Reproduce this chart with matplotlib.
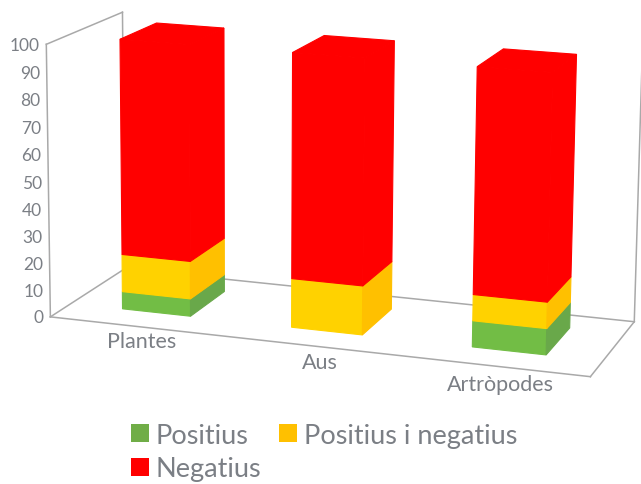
import matplotlib
matplotlib.use("Agg")
import matplotlib.pyplot as plt
from matplotlib.patches import Patch, Polygon
import numpy as np

plt.rcParams['font.family'] = ['Lato', 'DejaVu Sans']

categories = ["Plantes", "Aus", "Artròpodes"]
positius = [6.5, 0, 9.5]
positius_negatius = [14, 18, 9.5]
negatius = [79.5, 82, 81]
ticks = [0, 10, 20, 30, 40, 50, 60, 70, 80, 90, 100]
series_names = ["Positius", "Positius i negatius", "Negatius"]

front_cols = ["#72BD45", "#FFD200", "#FF0000"]
side_cols = ["#69A84A", "#FFC000", "#FF0000"]
legend_cols = ["#70AD47", "#FFC000", "#FF0000"]
line_col = "#a9a9a9"
text_col = "#7b7f85"

# where the frame of the fake 3d box sits in the picture
# (x 0..3, value 0..100, depth 0..1) -> pixels
anchors = [
    (0, 0, 0, 53, 316),
    (3, 0, 0, 590, 380),
    (0, 0, 1, 122, 272),
    (3, 0, 1, 635, 320),
    (0, 100, 0, 44, 45),
    (0, 100, 1, 125, 13),
    (3, 100, 1, 642, 52),
]


def fit_camera(pts):
    rows = []
    rhs = []
    for x, v, d, px, py in pts:
        w = [x, v / 100, d, 1]
        rows.append(w + [0, 0, 0, 0] + [-px * x, -px * v / 100, -px * d])
        rhs.append(px)
        rows.append([0, 0, 0, 0] + w + [-py * x, -py * v / 100, -py * d])
        rhs.append(py)
    sol = np.linalg.lstsq(np.array(rows, float), np.array(rhs, float), rcond=None)[0]
    return np.append(sol, 1).reshape(3, 4)


cam = fit_camera(anchors)


def project(x, v, d):
    p = cam @ np.array([x, v / 100, d, 1])
    return p[0] / p[2], p[1] / p[2]


fig = plt.figure(figsize=(6.41, 4.85), dpi=100)
ax = fig.add_axes([0, 0, 1, 1])
ax.set_xlim(0, 641)
ax.set_ylim(485, 0)
ax.axis("off")

# frame lines
frame = [
    ((0, 0, 0), (3, 0, 0)),
    ((3, 0, 0), (3, 0, 1)),
    ((3, 0, 1), (0, 0, 1)),
    ((0, 0, 1), (0, 0, 0)),
    ((0, 0, 0), (0, 100, 0)),
    ((0, 100, 0), (0, 100, 1)),
    ((0, 100, 1), (0, 0, 1)),
    ((3, 0, 1), (3, 100, 1)),
]
for a, b in frame:
    pa = project(*a)
    pb = project(*b)
    ax.plot([pa[0], pb[0]], [pa[1], pb[1]], color=line_col, lw=1.1, zorder=1)

for t in ticks:
    px, py = project(0, t, 0)
    ax.text(px - 6.5, py + 0.5, str(t), ha="right", va="center", fontsize=12.5, color=text_col)

# stacked bars
bar_x = [0.505, 1.488, 2.497]
bar_w = 0.40
d0, d1 = 0.27, 0.77
stacks = [positius, positius_negatius, negatius]
for i in range(len(categories)):
    x0 = bar_x[i] - bar_w / 2
    x1 = bar_x[i] + bar_w / 2
    base = 0
    for s in range(3):
        val = stacks[s][i]
        if val == 0:
            continue
        top = base + val
        ax.add_patch(Polygon([project(x0, base, d0), project(x1, base, d0),
                              project(x1, top, d0), project(x0, top, d0)],
                             fc=front_cols[s], ec=front_cols[s], lw=0.8, zorder=3))
        ax.add_patch(Polygon([project(x1, base, d0), project(x1, base, d1),
                              project(x1, top, d1), project(x1, top, d0)],
                             fc=side_cols[s], ec=side_cols[s], lw=0.8, zorder=3))
        base = top
    ax.add_patch(Polygon([project(x0, base, d0), project(x1, base, d0),
                          project(x1, base, d1), project(x0, base, d1)],
                         fc=front_cols[2], ec=front_cols[2], lw=0.8, zorder=3))

label_pos = [(142, 342), (320, 363), (500, 385)]
for name, (lx, ly) in zip(categories, label_pos):
    ax.text(lx, ly, name, ha="center", va="center", fontsize=15.5, color=text_col)

# legend fills column first, so red goes second to land under the green
order = [0, 2, 1]
handles = [Patch(fc=legend_cols[k], ec="none", label=series_names[k]) for k in order]
ax.legend(handles=handles, ncol=2, frameon=False, loc="center left",
          bbox_to_anchor=(131 / 641, 1 - 453 / 485), fontsize=19.5, labelcolor=text_col,
          handlelength=0.65, handleheight=0.65, handletextpad=0.25,
          columnspacing=0.68, labelspacing=0.32, borderpad=0, borderaxespad=0)

fig.savefig("out.png", dpi=100)
